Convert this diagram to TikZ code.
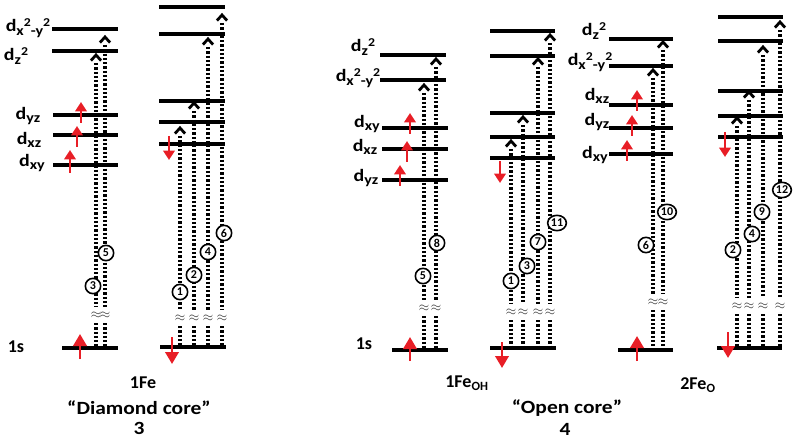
\documentclass[tikz,border=0pt]{standalone}
\usepackage{fontspec}
\setmainfont{Carlito}
\newfontfamily\widefont{Carlito}[FakeStretch=1.15]
\usetikzlibrary{arrows.meta,shapes.geometric}
\definecolor{spinred}{RGB}{232,30,38}
\definecolor{brkgray}{RGB}{55,55,55}
\newcommand\sbx[1]{\raisebox{-2.6pt}{\fontsize{10.5}{10.5}\selectfont #1}}
\newcommand\spx[1]{\raisebox{4.2pt}{\fontsize{9}{9}\selectfont #1}}
\newcommand\xcol[8]{%
  % #1 name, #2 x, #3 chevron tip y, #4 break y, #5 bar y, #6 circle x, #7 circle y, #8 number
  \coordinate (#1tip) at (#2,#3);
  \coordinate (#1bot) at (#2,#5-2);
  \draw[chev] ([xshift=-3.8pt,yshift=-4.2pt]#1tip) -- (#1tip) -- ([xshift=3.8pt,yshift=-4.2pt]#1tip);
  \node[brk] (#1brk) at (#2,#4) {$\approx$};
  \draw[dotline] ([yshift=-6pt]#1tip) -- ([yshift=6pt]#1brk.center);
  \draw[dotline] ([yshift=-6pt]#1brk.center) -- (#1bot);
  \node[num] (#1num) at (#6,#7) {#8};
}
\begin{document}
\begin{tikzpicture}[x=0.75pt,y=-0.75pt,
  level/.style={line width=3.2pt},
  dotline/.style={line width=2.4pt, dash pattern=on 1.7pt off 1.5pt},
  chev/.style={line width=2.1pt, line join=miter, line cap=butt},
  spin/.style={draw=spinred, line width=2.1pt, -{Triangle[width=8.5pt,length=7pt,fill=spinred]}},
  spinbig/.style={draw=spinred, line width=2.1pt, -{Triangle[width=10pt,length=9pt,fill=spinred]}},
  num/.style={draw, line width=1.2pt, ellipse, fill=white, inner sep=0.4pt, minimum width=11.5pt, minimum height=11.5pt, font=\bfseries\fontsize{9}{9}\selectfont},
  brk/.style={text=brkgray, font=\fontsize{10}{10}\selectfont, inner sep=0pt},
  lab/.style={font=\widefont\bfseries\fontsize{13}{13}\selectfont, inner sep=0pt},
  glab/.style={font=\bfseries\fontsize{13.5}{14}\selectfont, inner sep=0pt},
  plab/.style={font=\widefont\bfseries\fontsize{14}{14}\selectfont, inner sep=0pt},
]
\useasboundingbox (0,0) rectangle (800,442);

% ===== Group A: 1Fe alpha =====
\foreach \yy/\xa/\xb in {29/52/118, 51/52/118, 115/53/118, 135/53/118, 165/53/118, 348/62/118}
  \draw[level] (\xa,\yy) -- (\xb,\yy);
\node[lab] (la1) at (28,28) {d\sbx{x}\spx{2}\sbx{-y}\spx{2}};
\node[lab] (la2) at (16,56) {d\sbx{z}\spx{2}};
\node[lab] (la3) at (28,116) {d\sbx{yz}};
\node[lab] (la4) at (29,140) {d\sbx{xz}};
\node[lab] (la5) at (32,163) {d\sbx{xy}};
\node[glab] (la6) at (16,347) {1s};
\xcol{a1}{96}{55}{315}{348}{93}{286}{3}
\xcol{a2}{105}{37}{315}{348}{106}{253}{5}
\draw[spin] (81,123) -- (81,102);
\draw[spin] (77,147) -- (77,126);
\draw[spin] (70,173) -- (70,150);
\draw[spinbig] (80,359) -- (80,334);

% ===== Group B: 1Fe beta =====
\foreach \yy/\xa/\xb in {7/159/225, 34/159/225, 101/159/225, 122/159/225, 144/159/225, 347/160/226}
  \draw[level] (\xa,\yy) -- (\xb,\yy);
\xcol{b1}{180}{128}{318}{347}{180}{292}{1}
\xcol{b2}{194}{103}{318}{347}{194}{275}{2}
\xcol{b3}{208}{39}{318}{347}{208}{252}{4}
\xcol{b4}{222}{15}{318}{347}{224}{233}{6}
\draw[spin] (169,136) -- (169,160);
\draw[spinbig] (172,337) -- (172,364);

\node[glab] (g1) at (143,383) {1Fe};
\node[plab] (g1b) at (139,408) {“Diamond core”};
\node[plab] (g1c) at (139,428) {3};

% ===== Group C: 1Fe_OH alpha =====
\foreach \yy/\xa/\xb in {55/380/446, 80/380/446, 128/382/448, 149/382/448, 180/382/448, 350/392/448}
  \draw[level] (\xa,\yy) -- (\xb,\yy);
\node[lab] (lc1) at (363,47) {d\sbx{z}\spx{2}};
\node[lab] (lc2) at (358,78) {d\sbx{x}\spx{2}\sbx{-y}\spx{2}};
\node[lab] (lc3) at (367,124) {d\sbx{xy}};
\node[lab] (lc4) at (365,147) {d\sbx{xz}};
\node[lab] (lc5) at (366,178) {d\sbx{yz}};
\node[glab] (lc6) at (364,344) {1s};
\xcol{c1}{424}{85}{308}{350}{423}{276}{5}
\xcol{c2}{436}{59}{308}{350}{437}{243}{8}
\draw[spin] (410,134) -- (410,113);
\draw[spin] (407,162) -- (407,141);
\draw[spin] (400,186) -- (400,165);
\draw[spinbig] (410,361) -- (410,337);

% ===== Group D: 1Fe_OH beta =====
\foreach \yy/\xa/\xb in {31/490/555, 56/490/555, 113/490/555, 137/490/555, 158/490/555, 348/490/556}
  \draw[level] (\xa,\yy) -- (\xb,\yy);
\xcol{d1}{511}{141}{312}{348}{511}{281}{1}
\xcol{d2}{523}{117}{312}{348}{527}{266}{3}
\xcol{d3}{538}{59}{312}{348}{538}{242}{7}
\xcol{d4}{550}{35}{312}{348}{557}{223}{11}
\draw[spin] (500,161) -- (500,183);
\draw[spinbig] (502,342) -- (502,368);

\node[glab] (g2) at (467,383) {1Fe\textsubscript{OH}};
\node[plab] (g2b) at (567,408) {“Open core”};
\node[plab] (g2c) at (565,429) {4};

% ===== Group E: 2Fe_O alpha =====
\foreach \yy/\xa/\xb in {39/609/673, 66/609/673, 105/609/673, 128/609/673, 154/609/673, 350/618/673}
  \draw[level] (\xa,\yy) -- (\xb,\yy);
\node[lab] (le1) at (594,31) {d\sbx{z}\spx{2}};
\node[lab] (le2) at (590,62) {d\sbx{x}\spx{2}\sbx{-y}\spx{2}};
\node[lab] (le3) at (597,96) {d\sbx{xz}};
\node[lab] (le4) at (597,122) {d\sbx{yz}};
\node[lab] (le5) at (595,155) {d\sbx{xy}};
\xcol{e1}{653}{70}{302}{350}{646}{245}{6}
\xcol{e2}{663}{42}{302}{350}{667}{212}{10}
\draw[spin] (637,111) -- (637,90);
\draw[spin] (632,136) -- (632,115);
\draw[spin] (627,161) -- (627,140);
\draw[spinbig] (637,361) -- (637,336);

% ===== Group F: 2Fe_O beta =====
\foreach \yy/\xa/\xb in {17/718/783, 41/718/783, 91/718/783, 116/718/783, 137/718/783, 348/717/782}
  \draw[level] (\xa,\yy) -- (\xb,\yy);
\xcol{f1}{737}{118}{306}{348}{733}{250}{2}
\xcol{f2}{749}{92}{306}{348}{752}{234}{4}
\xcol{f3}{763}{47}{306}{348}{762}{212}{9}
\xcol{f4}{780}{22}{306}{348}{782}{190}{12}
\draw[spin] (725,132) -- (725,157);
\draw[spinbig] (728,332) -- (728,358);

\node[glab] (g3) at (698,385) {2Fe\textsubscript{O}};
\end{tikzpicture}
\end{document}
